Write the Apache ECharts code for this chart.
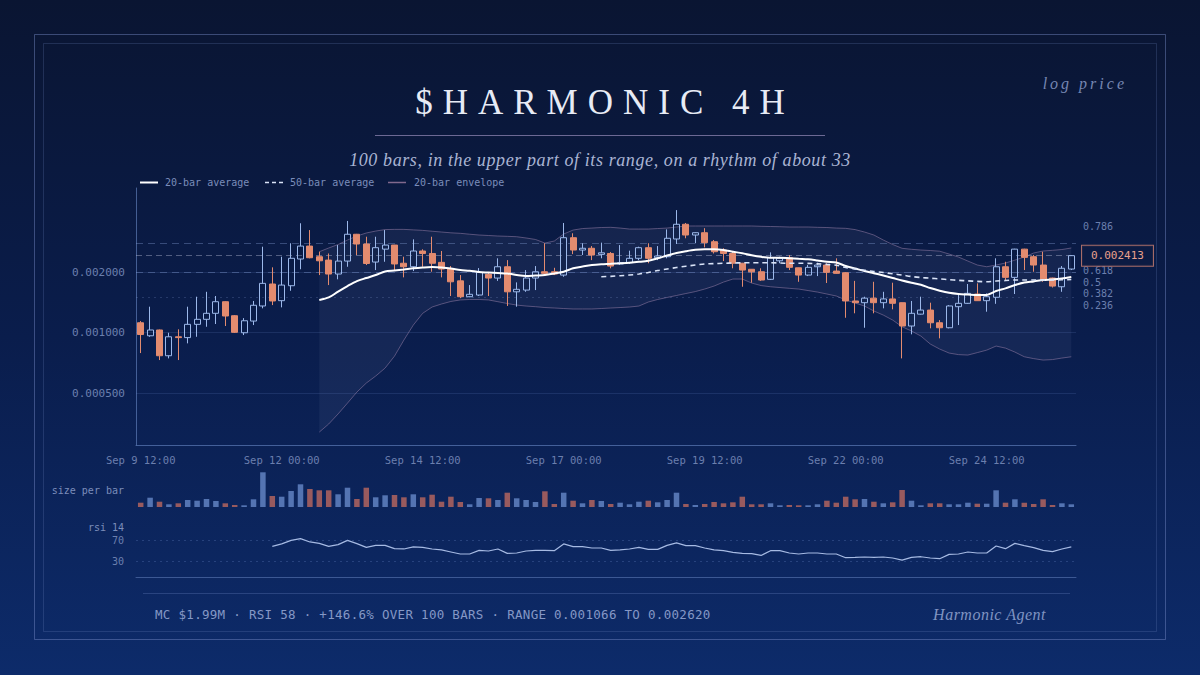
<!DOCTYPE html>
<html><head><meta charset="utf-8">
<script src="https://cdn.jsdelivr.net/npm/echarts@6/dist/echarts.min.js"></script>
<style>
html,body{margin:0;padding:0;width:1200px;height:675px;overflow:hidden;
background:linear-gradient(180deg,#0a1532 0%,#0a1d4c 50%,#0d2b6a 100%);}
#c{width:1200px;height:675px;}
</style></head><body><div id="c"></div>
<script>
// ---------- data (prices in millionths) ----------
const PRICE_UNIT = 1e-6;
const startTime = Date.UTC(2024, 8, 9, 12); // Sep 9 12:00, 4h bars
const barCount = 100;
const openM  = [1119,964,1030,767,953,944,1099,1164,1247,1424,1213,998,1141,1356,1744,1441,1710,2322,2693,2384,2293,1955,2268,3083,2757,2243,2600,2724,2212,2125,2545,2474,2235,2070,1808,1508,1537,1948,1867,2125,1595,1627,1867,2007,2007,1932,2964,2573,2626,2449,2474,2194,2226,2341,2643,2356,2384,2920,3456,3056,3138,2830,2573,2474,2212,2065,2007,1840,2275,2356,2100,1932,2125,2167,2023,1984,1436,1408,1483,1408,1470,1408,1078,1235,1294,1119,1057,1345,1398,1555,1441,1498,2125,1882,2600,2384,2167,1867,1690,2070];
const closeM = [978,1030,767,953,944,1099,1164,1247,1424,1209,1003,1145,1367,1757,1436,1723,2341,2693,2356,2275,1955,2268,3083,2757,2206,2643,2724,2194,2125,2545,2474,2212,2070,1789,1508,1550,1993,1867,2125,1595,1641,1867,2007,1970,1955,2964,2573,2626,2430,2493,2142,2226,2341,2643,2341,2403,2944,3456,3056,3138,2800,2524,2474,2212,2046,2007,1825,2356,2341,2111,1932,2111,2167,1993,1970,1436,1408,1483,1408,1470,1398,1078,1247,1294,1119,1057,1356,1398,1567,1441,1508,2125,1882,2600,2366,2167,1840,1703,2088,2413];
const lowM   = [791,953,730,744,730,884,953,1069,1103,1078,995,972,1090,1320,1370,1335,1614,2065,2341,1932,1723,1840,2125,2430,2167,2046,2250,2046,1882,2023,2125,2007,1882,1520,1483,1500,1520,1520,1808,1356,1345,1595,1627,1965,1932,1895,2456,2430,2293,2341,2088,2167,2194,2293,2212,2293,2341,2757,2944,2781,2654,2474,2268,2088,1690,1770,1808,1825,2212,2046,1789,1910,1910,1764,1960,1185,1247,1057,1247,1320,1305,744,980,1230,1050,936,1050,1090,1390,1436,1270,1390,1825,1555,2046,2007,1789,1675,1595,2046];
const highM  = [1141,1345,1035,998,1038,1345,1508,1595,1520,1430,1222,1180,1436,2673,2111,2384,2781,3497,3235,2524,2474,2724,3590,3095,2997,2997,3235,2730,2384,2908,2595,2997,2545,2142,1932,1723,2093,2000,2341,2293,1777,2046,2142,2781,2100,3508,3118,2781,2693,2800,2515,2724,2555,2673,2781,2693,3260,4065,3508,3150,3305,2886,2626,2524,2220,2070,2088,2505,2384,2430,2105,2167,2226,2212,2341,2000,1808,1508,1789,1595,1770,1412,1436,1508,1408,1154,1370,1567,1744,1757,1567,2341,2250,2610,2610,2430,2524,1875,2142,2420];
const sizePerBar = [4.3,9.3,5.3,2.7,3.7,7,6.3,8,6,3.7,2,1.7,7.7,34.7,11,10.3,16,22.7,18,16.7,16.7,12.7,19.3,8,19.3,9.7,11.7,12,9.7,12.7,9.7,12.3,5.3,10.3,5,2.7,9,8.7,7,14.3,8.7,7,5,15.7,3,14.3,6.3,3.7,7,6,3,4.3,2.7,5.3,6.3,4.7,7,14.3,3,2,3,5,3.7,4.7,10.3,2.7,2.7,3.7,1.7,2,1.7,1.7,2.7,6.3,4.3,10.3,7.7,8,5.3,3.7,4.7,17,6.3,1.7,3.7,3.7,2.7,2.7,4.3,3.3,3.3,16.7,4.3,7.7,4.3,3,7.7,2,3.7,2.7];
const ma20Start = 19;
const ma20M = [1453,1495,1599,1704,1804,1868,1932,2012,2035,2059,2087,2106,2118,2106,2083,2047,2031,2000,1989,1978,1967,1933,1911,1922,1933,1967,2007,2087,2130,2168,2188,2198,2211,2226,2248,2277,2341,2417,2487,2539,2581,2596,2596,2575,2524,2479,2423,2381,2357,2357,2343,2327,2314,2283,2248,2231,2143,2083,2024,1974,1922,1868,1815,1769,1729,1665,1615,1576,1555,1546,1538,1538,1609,1659,1723,1773,1797,1825,1836,1857,1889];
const ma50Start = 49;
const ma50M = [1895,1904,1917,1932,1955,1989,2035,2071,2106,2138,2168,2193,2203,2211,2218,2223,2226,2226,2226,2218,2211,2211,2208,2198,2181,2163,2106,2071,2042,2012,1989,1960,1932,1900,1878,1864,1849,1832,1819,1808,1798,1789,1804,1815,1825,1825,1825,1825,1825,1832,1836];
const envStart = 19;
const envUpperM = [2524,2634,2742,2886,3021,3128,3198,3252,3260,3260,3241,3223,3191,3163,3134,3116,3084,3056,3039,3021,3011,2997,2954,2904,2788,2853,3091,3235,3291,3310,3330,3338,3310,3272,3272,3272,3291,3310,3350,3389,3389,3389,3389,3389,3389,3389,3389,3377,3369,3361,3350,3350,3350,3338,3330,3310,3299,3252,3163,3056,2886,2742,2625,2595,2573,2559,2539,2458,2375,2268,2168,2125,2168,2218,2293,2375,2487,2545,2565,2588,2634];
const envLowerM = [320,351,394,446,506,561,608,666,764,918,1090,1247,1340,1387,1428,1453,1461,1461,1453,1424,1395,1370,1355,1345,1332,1325,1317,1310,1310,1310,1317,1325,1332,1340,1355,1419,1461,1495,1529,1564,1599,1646,1704,1783,1846,1846,1763,1713,1690,1675,1660,1646,1618,1590,1555,1520,1453,1403,1355,1280,1222,1154,1069,1018,961,877,828,791,777,773,795,818,857,837,800,758,742,730,734,747,758];
const rsiStart = 14;
const rsi14 = [59,63.6,70.5,73.8,67.4,64.7,59,62.2,70.5,64.2,57,60.9,60.9,54.5,53.9,57.8,57,53.9,52,48.1,44.2,44.2,51.2,50,53.9,45.4,46.2,50,51.2,51.2,50.6,63.6,58.4,58.4,55.8,55.8,51.2,52,53.9,57,53.1,53.1,60.9,65.5,60.3,60.3,55.8,52,50.6,47.3,45.4,44.8,41.5,50.6,50.6,46.2,44.2,46.2,46.2,44.2,44.2,37.1,37.7,38.5,37.7,38.5,36.5,32.6,37.7,39,36.5,35.2,43.5,44.2,48.1,46.2,46.2,59.7,54.5,64.7,60.3,56.4,51.2,48.7,53.9,57.8];
const priceTicks = [0.0005, 0.001, 0.002];
const rsiLevels = [70, 30];
const lastPrice = 0.002413;
const dashedLevels = [0.00279, 0.002];
const dottedLevels = [0.0015];
const fibLabels = ['0.786', '0.618', '0.5', '0.382', '0.236'];
const legendLabels = ['20-bar average', '50-bar average', '20-bar envelope'];
const titleText = '$HARMONIC 4H';
const subtitleText = '100 bars, in the upper part of its range, on a rhythm of about 33';
const footerText = 'MC $1.99M · RSI 58 · +146.6% OVER 100 BARS · RANGE 0.001066 TO 0.002620';

// ---------- build ----------
const MONS = ['Jan','Feb','Mar','Apr','May','Jun','Jul','Aug','Sep','Oct','Nov','Dec'];
const categories = [];
for (let i = 0; i < barCount; i++) {
  const d = new Date(startTime + i * 4 * 3600 * 1000);
  categories.push(MONS[d.getUTCMonth()] + ' ' + d.getUTCDate() + ' ' + String(d.getUTCHours()).padStart(2,'0') + ':00');
}
const P = v => v * PRICE_UNIT;
const pad = (arr, start) => new Array(start).fill('-').concat(arr);
const candleData = openM.map((o, i) => [P(o), P(closeM[i]), P(lowM[i]), P(highM[i])]);
const UP = '#9cb8ea', DOWN = '#e38b6f';
const volData = sizePerBar.map((v, i) => ({
  value: v,
  itemStyle: { color: closeM[i] >= openM[i] ? '#5474b2' : '#985a5e' }
}));
const envLower = envLowerM.map(P);
const envDiff = envUpperM.map((u, i) => P(u) - P(envLowerM[i]));

const MONO = '"DejaVu Sans Mono", monospace';
const SERIF = '"Liberation Serif", "DejaVu Serif", serif';
const AXIS = 'rgba(100,130,190,0.65)';
const LABEL = '#6b7fae';
const GL = 136, GW = 940;

const chart = echarts.init(document.getElementById('c'), null, { renderer: 'svg' });
const option = {
  animation: false,
  backgroundColor: 'transparent',
  grid: [
    { left: GL, width: GW, top: 188, height: 257 },
    { left: GL, width: GW, top: 470, height: 37 },
    { left: GL, width: GW, top: 525, height: 52 }
  ],
  xAxis: [
    { gridIndex: 0, type: 'category', data: categories, boundaryGap: true,
      axisLine: { lineStyle: { color: AXIS } },
      axisTick: { alignWithLabel: true, interval: 14, length: 5, lineStyle: { color: AXIS } },
      axisLabel: { interval: 14, color: LABEL, fontFamily: MONO, fontSize: 10.5, margin: 9 },
      splitLine: { show: false } },
    { gridIndex: 1, type: 'category', data: categories, boundaryGap: true,
      axisLine: { show: false }, axisTick: { show: false }, axisLabel: { show: false }, splitLine: { show: false } },
    { gridIndex: 2, type: 'category', data: categories, boundaryGap: true,
      axisLine: { lineStyle: { color: 'rgba(100,130,190,0.55)' } }, axisTick: { show: false }, axisLabel: { show: false }, splitLine: { show: false } }
  ],
  yAxis: [
    { gridIndex: 0, type: 'log', logBase: 10, min: 0.000276, max: 0.005236,
      axisLine: { show: true, lineStyle: { color: AXIS } }, axisTick: { show: false },
      axisLabel: { show: false }, splitLine: { show: false } },
    { gridIndex: 1, type: 'value', min: 0, max: 37, show: false, splitLine: { show: false } },
    { gridIndex: 2, type: 'value', min: 0, max: 100, show: false, splitLine: { show: false } }
  ],
  series: [
    { name: 'env-lower', type: 'line', xAxisIndex: 0, yAxisIndex: 0, stack: 'env',
      data: pad(envLower, envStart), symbol: 'none', z: 1, silent: true,
      lineStyle: { color: 'rgba(150,125,165,0.55)', width: 1 } },
    { name: 'env-upper', type: 'line', xAxisIndex: 0, yAxisIndex: 0, stack: 'env',
      data: pad(envDiff, envStart), symbol: 'none', z: 1, silent: true,
      lineStyle: { color: 'rgba(150,125,165,0.55)', width: 1 },
      areaStyle: { color: 'rgba(150,160,205,0.11)' } },
    { name: 'price', type: 'candlestick', xAxisIndex: 0, yAxisIndex: 0, z: 3,
      data: candleData, barWidth: '68%',
      itemStyle: { color: 'rgba(10,25,60,0.15)', color0: DOWN, borderColor: UP, borderColor0: DOWN, borderWidth: 1 },
      markLine: {
        silent: true, symbol: ['none', 'none'], animation: false, precision: 8, z: 2,
        data: [
          ...priceTicks.map(v => ({ yAxis: v,
            lineStyle: { color: 'rgba(120,150,215,0.16)', type: 'solid', width: 1 },
            label: { show: true, position: 'start', formatter: v.toFixed(6), color: LABEL, fontFamily: MONO, fontSize: 11, distance: 11 } })),
          ...dashedLevels.map(v => ({ yAxis: v,
            lineStyle: { color: 'rgba(140,165,220,0.35)', type: [7, 5], width: 1 },
            label: { show: false } })),
          ...dottedLevels.map(v => ({ yAxis: v,
            lineStyle: { color: 'rgba(140,165,220,0.22)', type: [2, 4], width: 1 },
            label: { show: false } })),
          { yAxis: lastPrice,
            lineStyle: { color: 'rgba(190,195,220,0.4)', type: [6, 4], width: 1 },
            label: { show: true, position: 'end', formatter: lastPrice.toFixed(6), color: '#e8a08c',
              fontFamily: MONO, fontSize: 11, distance: 6, padding: [5, 9, 4, 9],
              borderColor: '#a86c68', borderWidth: 1, backgroundColor: 'rgba(12,28,66,0.9)' } }
        ]
      } },
    { name: '20-bar average', type: 'line', xAxisIndex: 0, yAxisIndex: 0, z: 4,
      data: pad(ma20M.map(P), ma20Start), symbol: 'none', smooth: 0.3,
      lineStyle: { color: '#ffffff', width: 2 } },
    { name: '50-bar average', type: 'line', xAxisIndex: 0, yAxisIndex: 0, z: 4,
      data: pad(ma50M.map(P), ma50Start), symbol: 'none', smooth: 0.3,
      lineStyle: { color: '#d9e3f7', width: 1.6, type: [5, 4] } },
    { name: 'size per bar', type: 'bar', xAxisIndex: 1, yAxisIndex: 1,
      data: volData, barWidth: 5.5 },
    { name: 'rsi 14', type: 'line', xAxisIndex: 2, yAxisIndex: 2,
      data: pad(rsi14, rsiStart), symbol: 'none',
      lineStyle: { color: '#a6bae3', width: 1.2 },
      markLine: {
        silent: true, symbol: ['none', 'none'], animation: false, precision: 2,
        data: rsiLevels.map(v => ({ yAxis: v,
          lineStyle: { color: 'rgba(120,150,215,0.25)', type: [2, 4], width: 1 },
          label: { show: true, position: 'start', formatter: String(v), color: LABEL, fontFamily: MONO, fontSize: 10, distance: 12 } }))
      } }
  ],
  graphic: [
    { type: 'rect', shape: { x: 34.5, y: 34.5, width: 1131, height: 605 }, style: { fill: 'none', stroke: 'rgba(120,140,200,0.45)', lineWidth: 1 }, silent: true },
    { type: 'rect', shape: { x: 43.5, y: 43.5, width: 1113, height: 588 }, style: { fill: 'none', stroke: 'rgba(120,140,200,0.22)', lineWidth: 1 }, silent: true },
    { type: 'text', x: 605, y: 102, style: { text: titleText, font: '400 35px ' + SERIF, fill: '#e7ebf5', textAlign: 'center', textVerticalAlign: 'middle' } },
    { type: 'line', shape: { x1: 375, y1: 135.5, x2: 825, y2: 135.5 }, style: { stroke: 'rgba(150,140,185,0.7)', lineWidth: 1 } },
    { type: 'text', x: 600, y: 160, style: { text: subtitleText, font: 'italic 18px ' + SERIF, fill: '#a9b4d3', textAlign: 'center', textVerticalAlign: 'middle' } },
    { type: 'text', x: 1127, y: 83, style: { text: 'log price', font: 'italic 16px ' + SERIF, fill: '#7686b2', textAlign: 'right', textVerticalAlign: 'middle' } },
    // legend
    { type: 'line', shape: { x1: 140, y1: 182.5, x2: 158, y2: 182.5 }, style: { stroke: '#ffffff', lineWidth: 2 } },
    { type: 'text', x: 165, y: 182.5, style: { text: legendLabels[0], font: '10px ' + MONO, fill: '#7b8dba', textVerticalAlign: 'middle' } },
    { type: 'line', shape: { x1: 265, y1: 182.5, x2: 283, y2: 182.5 }, style: { stroke: '#d9e3f7', lineWidth: 1.6, lineDash: [4, 3] } },
    { type: 'text', x: 290, y: 182.5, style: { text: legendLabels[1], font: '10px ' + MONO, fill: '#7b8dba', textVerticalAlign: 'middle' } },
    { type: 'line', shape: { x1: 388, y1: 182.5, x2: 406, y2: 182.5 }, style: { stroke: 'rgba(150,120,155,0.85)', lineWidth: 1.5 } },
    { type: 'text', x: 414, y: 182.5, style: { text: legendLabels[2], font: '10px ' + MONO, fill: '#7b8dba', textVerticalAlign: 'middle' } },
    // fib labels
    ...fibLabels.map((t, i) => ({ type: 'text', x: 1083, y: [226, 270, 282, 293.5, 305][i],
      style: { text: t, font: '10px ' + MONO, fill: LABEL, textVerticalAlign: 'middle' } })),
    // panel labels
    { type: 'text', x: 124, y: 490, style: { text: 'size per bar', font: '10px ' + MONO, fill: '#7b8dba', textAlign: 'right', textVerticalAlign: 'middle' } },
    { type: 'text', x: 124, y: 527, style: { text: 'rsi 14', font: '10px ' + MONO, fill: '#7b8dba', textAlign: 'right', textVerticalAlign: 'middle' } },
    // footer
    { type: 'line', shape: { x1: 143, y1: 593.5, x2: 1070, y2: 593.5 }, style: { stroke: 'rgba(110,135,195,0.3)', lineWidth: 1 } },
    { type: 'text', x: 155, y: 614, style: { text: footerText, font: '12.5px ' + MONO, fill: '#8598c6', textVerticalAlign: 'middle' } },
    { type: 'text', x: 1046, y: 614, style: { text: 'Harmonic Agent', font: 'italic 16px ' + SERIF, fill: '#8094c2', textAlign: 'right', textVerticalAlign: 'middle' } }
  ]
};
chart.setOption(option);

// letter spacing for the display texts (SVG renderer)
const SPACING = {};
SPACING[titleText] = '10px';
SPACING[subtitleText] = '0.6px';
SPACING['log price'] = '3px';
SPACING[footerText] = '0.3px';
SPACING['Harmonic Agent'] = '0.5px';
function applySpacing() {
  document.querySelectorAll('#c svg text').forEach(t => {
    const s = SPACING[t.textContent];
    if (s) t.setAttribute('letter-spacing', s);
  });
}
chart.on('finished', applySpacing);
applySpacing();
setTimeout(applySpacing, 50);
</script></body></html>
